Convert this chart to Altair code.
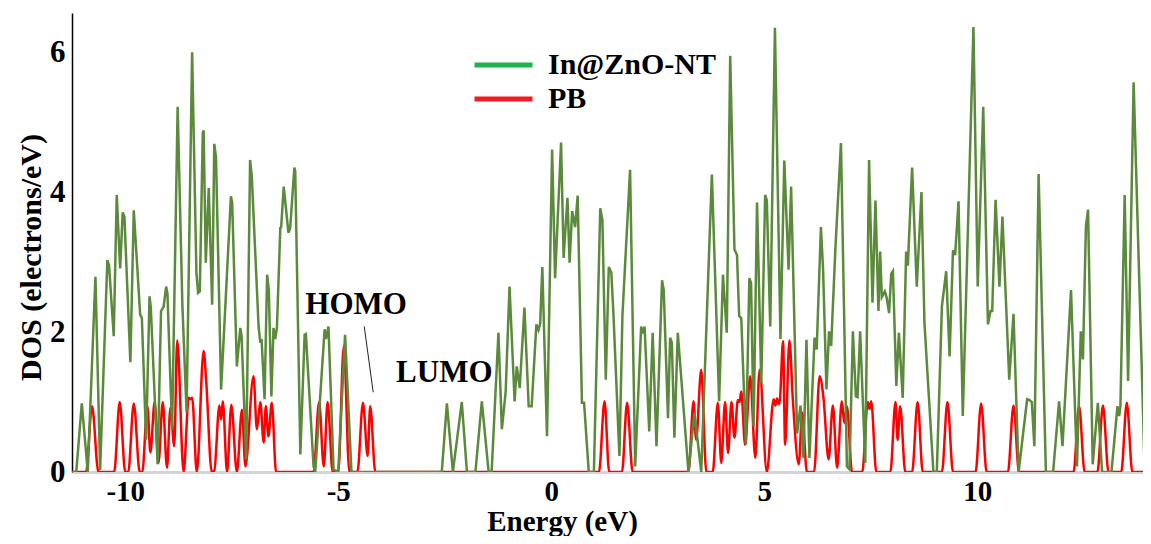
import altair as alt
import pandas as pd

# ---- data ----
green_e = [-11.25, -11.15, -11.02, -10.88, -10.70, -10.59, -10.42, -10.38, -10.27, -10.20, -10.12, -10.06, -10.02,
           -9.88, -9.80, -9.65, -9.61, -9.51, -9.43, -9.40, -9.24, -9.16, -9.10, -9.04, -9.01, -8.90, -8.77, -8.66,
           -8.56, -8.43, -8.33, -8.29, -8.25, -8.18, -8.16, -8.11, -8.04, -7.96, -7.91, -7.87, -7.75, -7.52, -7.49,
           -7.38, -7.30, -7.27, -7.16, -7.07, -7.03, -6.87, -6.83, -6.80, -6.73, -6.67, -6.63, -6.57, -6.52, -6.48,
           -6.44, -6.36, -6.34, -6.28, -6.17, -6.13, -6.03, -6.01, -5.89, -5.79, -5.76, -5.58, -5.54, -5.32, -5.29,
           -5.23, -5.11, -5.00, -4.84, -4.69, -2.57, -2.45, -2.31, -2.10, -1.98, -1.78, -1.63, -1.47, -1.40, -1.24,
           -1.16, -1.07, -0.98, -0.86, -0.81, -0.74, -0.63, -0.53, -0.46, -0.35, -0.30, -0.26, -0.21, -0.10, 0.02,
           0.09, 0.23, 0.29, 0.38, 0.43, 0.49, 0.56, 0.62, 0.72, 0.77, 0.88, 1.00, 1.15, 1.20, 1.28, 1.35, 1.41,
           1.46, 1.60, 1.67, 1.85, 1.97, 2.11, 2.15, 2.19, 2.30, 2.38, 2.47, 2.60, 2.64, 2.74, 2.79, 2.83, 2.89,
           2.97, 3.22, 3.36, 3.52, 3.77, 3.94, 4.03, 4.12, 4.20, 4.30, 4.36, 4.41, 4.46, 4.57, 4.65, 4.69, 4.75,
           4.83, 4.93, 5.02, 5.06, 5.14, 5.25, 5.38, 5.47, 5.57, 5.63, 5.77, 5.85, 5.92, 5.99, 6.06, 6.18, 6.23,
           6.33, 6.38, 6.46, 6.52, 6.57, 6.67, 6.80, 6.94, 7.00, 7.08, 7.15, 7.19, 7.25, 7.37, 7.46, 7.54, 7.61,
           7.68, 7.72, 7.76, 7.83, 7.87, 7.93, 7.98, 8.02, 8.10, 8.16, 8.25, 8.33, 8.37, 8.47, 8.58, 8.69, 8.76,
           8.97, 9.05, 9.17, 9.27, 9.35, 9.43, 9.48, 9.56, 9.66, 9.91, 10.01, 10.14, 10.25, 10.31, 10.35, 10.43,
           10.52, 10.59, 10.75, 10.85, 10.97, 11.17, 11.22, 11.28, 11.34, 11.44, 11.61, 11.78, 11.92, 12.00, 12.20,
           12.34, 12.43, 12.48, 12.55, 12.60, 12.71, 12.83, 12.93, 13.15, 13.29, 13.33, 13.36, 13.46, 13.54, 13.67,
           13.93, 14.08]
green_d = [0.00, 0.00, 0.98, 0.00, 2.79, 0.03, 3.03, 2.95, 1.94, 3.96, 2.91, 3.71, 3.65,
           1.57, 3.74, 2.25, 2.20, 0.46, 2.51, 2.35, 0.11, 2.30, 2.36, 2.65, 2.55, 0.60, 5.22, 2.40,
           0.85, 6.00, 2.85, 2.56, 2.58, 4.85, 4.88, 2.99, 4.06, 2.39, 4.69, 4.50, 1.18, 3.94, 3.85,
           1.51, 2.06, 1.95, 0.18, 4.46, 4.23, 2.08, 1.85, 1.90, 1.04, 2.82, 2.60, 1.08, 2.06, 1.90,
           2.06, 3.49, 3.50, 4.08, 3.42, 3.48, 4.35, 4.30, 0.25, 1.96, 1.97, 0.08, 0.00, 2.04, 1.90,
           2.08, 0.04, 0.00, 1.96, 0.00, 0.00, 0.98, 0.00, 1.00, 0.00, 0.00, 1.01, 0.00, 0.00, 1.99,
           0.61, 1.15, 2.65, 1.01, 1.51, 1.20, 2.35, 0.94, 0.94, 2.11, 2.03, 2.12, 2.93, 0.51, 4.61,
           2.77, 4.71, 3.06, 3.92, 2.99, 3.73, 3.50, 3.95, 0.99, 0.99, 0.00, 0.00, 3.77, 3.60, 1.32, 2.93, 2.85,
           2.25, 0.23, 2.23, 4.32, 0.08, 2.08, 1.98, 2.08, 0.58, 1.99, 0.37, 2.74, 2.60, 0.77, 1.92, 1.85, 0.49,
           1.99, 0.00, 0.85, 0.00, 4.25, 1.01, 2.82, 1.99, 5.95, 3.18, 3.10, 2.23, 2.20, 0.39, 2.77, 2.70, 0.65,
           3.85, 1.27, 3.96, 3.88, 2.08, 6.35, 1.90, 4.45, 2.89, 4.08, 0.55, 0.95, 0.20, 1.89, 0.20, 1.92, 1.75,
           3.50, 2.90, 1.18, 2.01, 1.80, 3.20, 4.70, 0.08, 0.04, 2.01, 1.08, 1.07, 2.01, 0.13, 4.46, 2.42, 3.88,
           2.30, 3.15, 2.50, 2.58, 2.50, 2.27, 2.83, 2.87, 1.23, 1.99, 1.06, 3.15, 2.95, 4.35, 2.65, 4.00, 2.13,
           0.00, 0.00, 2.37, 2.87, 1.65, 3.17, 3.10, 3.87, 0.80, 6.36, 2.65, 5.22, 2.11, 2.30, 2.30, 3.89,
           2.65, 3.65, 1.32, 2.26, 0.00, 1.04, 1.03, 1.00, 0.37, 4.26, 0.00, 0.00, 1.01, 0.37, 2.60,
           0.08, 2.01, 1.61, 3.51, 3.75, 0.11, 0.99, 0.00, 0.00, 0.94, 0.80, 0.94, 3.96, 1.30, 5.57,
           0.00, 2.14]

red_e = [-11.25, -10.92, -10.78, -10.63, -10.26, -10.13, -10.00, -9.93, -9.80, -9.66, -9.60, -9.48, -9.41, -9.31,
         -9.22, -9.12, -9.02, -8.94, -8.85, -8.78, -8.63, -8.51, -8.47, -8.43, -8.32, -8.16, -8.10, -7.97, -7.91,
         -7.79, -7.75, -7.71, -7.61, -7.51, -7.38, -7.26, -7.18, -6.99, -6.91, -6.83, -6.75, -6.70, -6.64, -6.56,
         -6.46, -5.58, -5.45, -5.34, -5.25, -5.13, -5.00, -4.87, -4.74, -4.55, -4.42, -4.31, -4.25, -4.13,
         1.12, 1.25, 1.36, 1.66, 1.78, 1.91, 3.22, 3.34, 3.40, 3.52, 3.64, 3.79, 3.91, 3.99, 4.08, 4.15, 4.23,
         4.30, 4.38, 4.42, 4.46, 4.55, 4.67, 4.79, 4.89, 5.06, 5.22, 5.26, 5.30, 5.34, 5.37, 5.44, 5.49, 5.59,
         5.67, 5.81, 5.89, 6.00, 6.17, 6.30, 6.39, 6.51, 6.61, 6.71, 6.82, 6.88, 6.94, 7.06, 7.30, 7.43, 7.47,
         7.51, 7.63, 7.96, 8.08, 8.13, 8.19, 8.31, 8.47, 8.60, 8.72, 9.17, 9.30, 9.43, 9.96, 10.09, 10.22,
         10.72, 10.85, 10.98, 12.26, 12.39, 12.52, 12.82, 12.95, 13.08, 13.38, 13.51, 13.64, 14.08]
red_d = [0.00, 0.00, 0.94, 0.00, 0.00, 1.00, 0.00, 0.00, 0.98, 0.00, 0.00, 0.94, 0.28, 1.00,
         0.13, 1.00, 0.06, 0.92, 0.37, 1.88, 0.00, 1.06, 1.04, 1.06, 0.00, 1.73, 1.30, 0.00, 0.02,
         0.95, 0.75, 1.01, 0.00, 0.96, 0.00, 0.89, 0.08, 1.37, 0.61, 1.00, 0.42, 0.94, 0.51, 0.99,
         0.00, 0.00, 1.00, 0.08, 1.00, 0.00, 0.00, 1.80, 0.00, 0.00, 0.99, 0.23, 0.94, 0.00,
         0.00, 1.01, 0.00, 0.00, 0.99, 0.00, 0.00, 1.01, 0.46, 1.46, 0.00, 0.00, 0.99, 0.13, 1.00, 0.27, 1.00,
         0.49, 1.03, 1.00, 1.15, 0.39, 1.37, 0.20, 1.46, 0.00, 1.04, 0.95, 1.05, 0.97, 1.05, 1.87, 0.39, 1.88,
         1.04, 0.11, 0.85, 0.00, 0.00, 1.37, 1.06, 0.18, 0.95, 0.06, 1.01, 0.70, 0.94, 0.00, 0.00, 1.00, 0.90,
         1.01, 0.00, 0.00, 1.00, 0.46, 0.94, 0.00, 0.00, 1.00, 0.00, 0.00, 1.00, 0.00, 0.00, 0.98, 0.00,
         0.00, 0.95, 0.00, 0.00, 0.94, 0.00, 0.00, 0.95, 0.00, 0.00, 0.99, 0.00, 0.00]

series_names = ["In@ZnO-NT", "PB"]
x_ticks = [-10, -5, 0, 5, 10]
y_ticks = [0, 2, 4, 6]
annot_text = ["HOMO", "LUMO"]
annot_e = [-4.58, -2.51]
annot_d = [2.39, 1.42]
pointer_e = [-4.39, -4.18]
pointer_d = [2.08, 1.14]

FONT = "Liberation Serif"
GREEN_LINE = "#5b8a3c"
RED_LINE = "#ff0000"

green_df = pd.DataFrame({"E": green_e, "D": green_d})
red_df = pd.DataFrame({"E": red_e, "D": red_d})
legend_df = pd.DataFrame({"series": series_names})
annot_df = pd.DataFrame({"t": annot_text, "E": annot_e, "D": annot_d})
pointer_df = pd.DataFrame({"E": [pointer_e[0]], "D": [pointer_d[0]], "E2": [pointer_e[1]], "D2": [pointer_d[1]]})

xscale = alt.Scale(domain=[-11.25, 13.89], nice=False, zero=False)
yscale = alt.Scale(domain=[0, 6.56], nice=False, zero=False)

xaxis = alt.Axis(values=x_ticks, title="Energy (eV)", grid=False, ticks=False,
                 domainColor="#d4d4d4", domainWidth=3,
                 labelFont=FONT, labelFontSize=29, labelFontWeight="bold", labelColor="black",
                 labelPadding=5, labelExpr="'' + datum.value", labelFlush=False,
                 titleFont=FONT, titleFontSize=29, titleFontWeight="bold", titleColor="black",
                 titleX=490, titleY=58, titleBaseline="alphabetic")
yaxis = alt.Axis(values=y_ticks, title="DOS (electrons/eV)", grid=False, ticks=False,
                 domainColor="black", domainWidth=1.5,
                 labelFont=FONT, labelFontSize=31, labelFontWeight="bold", labelColor="black",
                 labelPadding=7, labelFlush=False, labelExpr="'' + datum.value",
                 titleFont=FONT, titleFontSize=30, titleFontWeight="bold", titleColor="black",
                 titleX=-32, titleY=244, titleBaseline="alphabetic")

red_layer = alt.Chart(red_df).mark_line(color=RED_LINE, strokeWidth=2.5, interpolate="monotone", clip=True).encode(
    x=alt.X("E:Q", scale=xscale, axis=xaxis),
    y=alt.Y("D:Q", scale=yscale, axis=yaxis),
)
green_layer = alt.Chart(green_df).mark_line(color=GREEN_LINE, strokeWidth=2.5, clip=True).encode(
    x=alt.X("E:Q", scale=xscale),
    y=alt.Y("D:Q", scale=yscale),
)

legend_layer = alt.Chart(legend_df).transform_filter("false").mark_line().encode(
    color=alt.Color("series:N",
                    scale=alt.Scale(domain=series_names, range=["#22b14c", "#ed1c24"]),
                    legend=alt.Legend(title=None, orient="none", legendX=400, legendY=37,
                                      symbolType="stroke", symbolSize=3364, symbolStrokeWidth=5,
                                      clipHeight=30, rowPadding=4,
                                      labelFont=FONT, labelFontSize=30, labelFontWeight="bold",
                                      labelColor="black", labelOffset=13, padding=0,
                                      labelLimit=400))
)

annot_layer = alt.Chart(annot_df).mark_text(font=FONT, fontSize=31, fontWeight="bold", color="black").encode(
    x=alt.X("E:Q", scale=xscale), y=alt.Y("D:Q", scale=yscale), text="t:N"
)
pointer_layer = alt.Chart(pointer_df).mark_rule(color="#222222", strokeWidth=1).encode(
    x=alt.X("E:Q", scale=xscale), y=alt.Y("D:Q", scale=yscale), x2="E2:Q", y2="D2:Q"
)

chart = alt.layer(red_layer, green_layer, legend_layer, annot_layer, pointer_layer).properties(
    width=1071, height=459,
    autosize=alt.AutoSizeParams(type="none"),
    padding={"left": 64, "top": 5, "right": 0, "bottom": 64},
    background="white",
).configure_view(stroke=None)

chart.save("out.html", embed_options={"renderer": "svg", "actions": False})
